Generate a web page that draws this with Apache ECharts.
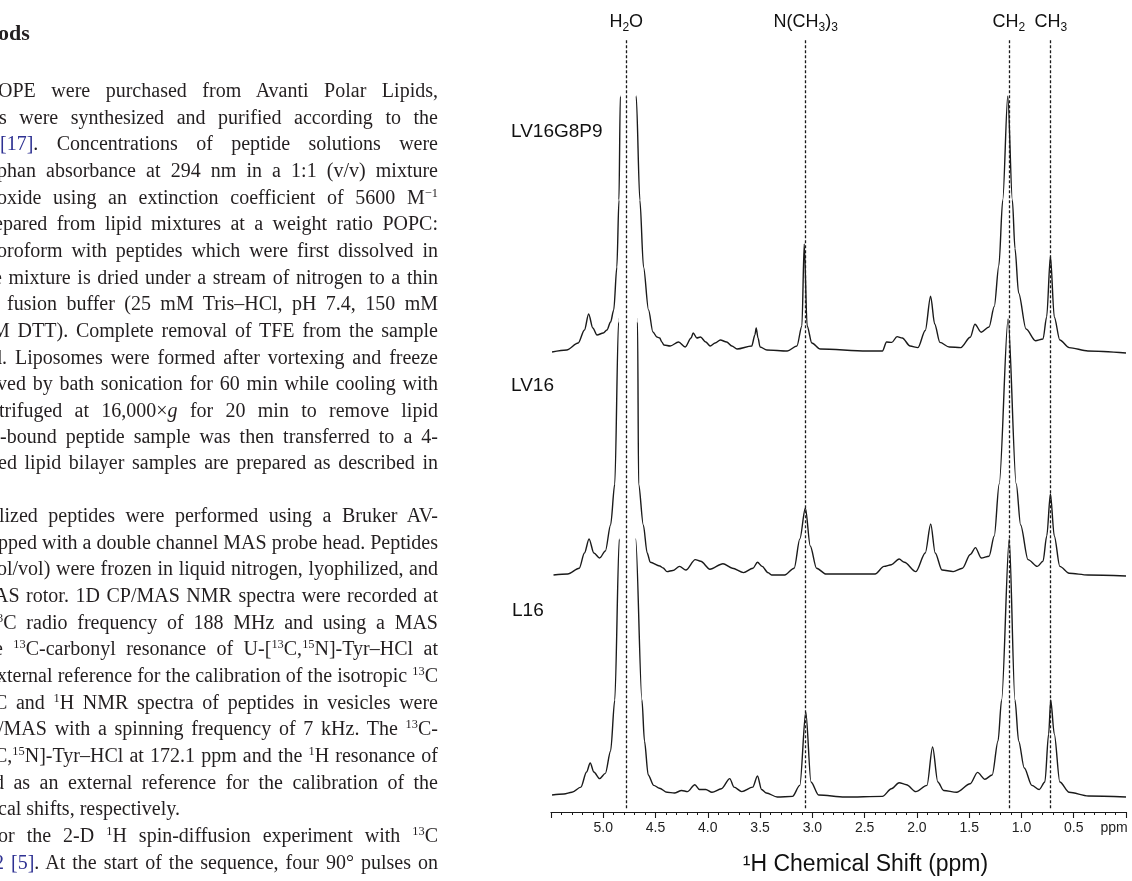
<!DOCTYPE html>
<html>
<head>
<meta charset="utf-8">
<script src="https://cdn.jsdelivr.net/npm/echarts@6/dist/echarts.min.js"></script>
<style>
  html, body { margin: 0; padding: 0; background: #fff; }
  #page { position: relative; width: 1132px; height: 881px; overflow: hidden; }
  #chart { position: absolute; left: 0; top: 0; width: 1132px; height: 881px; }
  #text { position: absolute; left: 0; top: 0; width: 438px; height: 881px; overflow: hidden;
          font-family: "Liberation Serif", "DejaVu Serif", serif; font-size: 20px; color: #231f20; }
  .ln { position: absolute; white-space: nowrap; line-height: 26px; }
  .ln sup { font-size: 0.62em; vertical-align: 0.55em; line-height: 0; }
  .lk { color: #2e3192; }
  .hd { font-weight: bold; font-size: 22px; }
</style>
</head>
<body>
<div id="page">
  <div id="chart"></div>
  <div id="text"></div>
</div>
<script>
// ---------- page text (left column fragment) ----------
// [center y, left x, justified?, html]
const textLines = [
  [33, -2, false, '<span class="hd">ods</span>'],
  [90, -2, true, 'OPE were purchased from Avanti Polar Lipids,'],
  [116.7, -1, true, 's were synthesized and purified according to the'],
  [143.3, 0, true, '<span class="lk">[17]</span>. Concentrations of peptide solutions were'],
  [170, -3, true, 'phan absorbance at 294 nm in a 1:1 (v/v) mixture'],
  [196.7, -3, true, 'oxide using an extinction coefficient of 5600 M<sup>&minus;1</sup>'],
  [223.3, -6, true, 'epared from lipid mixtures at a weight ratio POPC:'],
  [250, -3, true, 'oroform with peptides which were first dissolved in'],
  [276.7, -7, true, 'e mixture is dried under a stream of nitrogen to a thin'],
  [303.3, 7, true, 'fusion buffer (25 mM Tris&ndash;HCl, pH 7.4, 150 mM'],
  [330, -8, true, 'M DTT). Complete removal of TFE from the sample'],
  [356.7, -8, true, 'd. Liposomes were formed after vortexing and freeze'],
  [383.3, -3, true, 'ved by bath sonication for 60 min while cooling with'],
  [409.5, -1, true, 'trifuged at 16,000&times;<i>g</i> for 20 min to remove lipid'],
  [435.5, 0, true, '-bound peptide sample was then transferred to a 4-'],
  [462, -2, true, 'ed lipid bilayer samples are prepared as described in'],
  [515, -1, true, 'lized peptides were performed using a Bruker AV-'],
  [541.7, -2, true, 'pped with a double channel MAS probe head. Peptides'],
  [568.3, -3, true, 'ol/vol) were frozen in liquid nitrogen, lyophilized, and'],
  [595, -6, true, 'AS rotor. 1D CP/MAS NMR spectra were recorded at'],
  [621.7, -3, true, '<sup>3</sup>C radio frequency of 188 MHz and using a MAS'],
  [648.3, -6, true, 'e <sup>13</sup>C-carbonyl resonance of U-[<sup>13</sup>C,<sup>15</sup>N]-Tyr&ndash;HCl at'],
  [675, -3, true, 'xternal reference for the calibration of the isotropic <sup>13</sup>C'],
  [701.7, -6, true, 'C and <sup>1</sup>H NMR spectra of peptides in vesicles were'],
  [728.3, -2, true, '/MAS with a spinning frequency of 7 kHz. The <sup>13</sup>C-'],
  [755, -6, true, 'C,<sup>15</sup>N]-Tyr&ndash;HCl at 172.1 ppm and the <sup>1</sup>H resonance of'],
  [781.7, -6, true, 'd as an external reference for the calibration of the'],
  [808.3, -2, false, 'cal shifts, respectively.'],
  [835, -2, true, 'or the 2-D <sup>1</sup>H spin-diffusion experiment with <sup>13</sup>C'],
  [861.7, -6, true, '<span class="lk">2 [5]</span>. At the start of the sequence, four 90&deg; pulses on']
];
const TEXT_RIGHT = 438;

// ---------- chart data ----------
const xTickLabels = ['5.0', '4.5', '4.0', '3.5', '3.0', '2.5', '2.0', '1.5', '1.0', '0.5'];
const unitLabel = 'ppm';
const axisTitle = '\u00B9H Chemical Shift (ppm)';
const sampleNames = ['LV16G8P9', 'LV16', 'L16'];

// reference lines (ppm) and their labels
const refShifts = [4.78, 3.064, 1.121, 0.72];
const refLabels = ['H{s|2}O', 'N(CH{s|3}){s|3}', 'CH{s|2}', 'CH{s|3}'];

// spectra: [ppm, intensity] (water signal runs off-scale)
const specLV16G8P9 = [
  [5.49,0],[5.35,2],[5.24,9],[5.18,22],[5.14,38],[5.10,24],[5.06,17],[5.00,19],[4.965,22],[4.93,30],
  [4.90,42],[4.87,85],[4.85,152],[4.837,256],[4.77,5000],[4.685,256],[4.65,152],[4.615,85],[4.567,42],
  [4.525,20],[4.487,15],[4.46,14],[4.44,10],[4.42,7],[4.36,6],[4.28,10],[4.216,5],[4.16,14],[4.14,19],
  [4.105,14],[4.07,15],[4.02,10],[3.977,6],[3.93,9],[3.88,12],[3.82,10],[3.77,6],[3.72,3],[3.58,6],
  [3.55,17],[3.537,24],[3.52,14],[3.50,5],[3.435,2],[3.24,1],[3.148,6],[3.10,26],[3.078,108],[3.05,26],
  [3.005,9],[2.925,3],[2.48,1],[2.33,1],[2.29,10],[2.24,9.6],[2.19,15.4],[2.14,14],[2.065,6],[1.99,4.4],
  [1.92,21.5],[1.869,55.7],[1.83,28],[1.78,9.6],[1.69,5],[1.58,4.4],[1.49,14.7],[1.445,27.7],[1.385,19.8],
  [1.31,25],[1.26,45.5],[1.216,86.5],[1.179,152],[1.131,256],[1.087,152],[1.062,103.6],[1.027,59],
  [0.956,23],[0.866,11.3],[0.794,13],[0.759,35],[0.723,96],[0.686,35],[0.633,12],[0.544,4.4],[0.364,1],[0.0,-1]
];
const specLV16 = [
  [5.476,0],[5.34,1],[5.23,6.8],[5.18,22],[5.136,36],[5.09,22],[5.035,17],[4.98,24],[4.93,50],[4.89,91],
  [4.854,253],[4.77,5000],[4.672,253],[4.662,91],[4.617,50],[4.58,22],[4.55,12.7],[4.46,9],[4.427,7],
  [4.39,3.4],[4.335,4.5],[4.27,8.6],[4.21,5],[4.12,15.4],[4.068,13.7],[3.98,5.8],[3.855,11.3],[3.765,6.8],
  [3.658,2.4],[3.568,6.8],[3.525,12.7],[3.48,8.6],[3.425,2.4],[3.39,0],[3.265,0],[3.174,6.8],[3.12,36],
  [3.067,67],[3.02,29],[2.96,6.8],[2.87,1],[2.40,1],[2.315,8.6],[2.244,10.3],[2.17,16],[2.12,12.7],
  [2.01,3.4],[1.92,22],[1.868,51],[1.825,22],[1.76,5],[1.653,3.4],[1.564,6.8],[1.49,20.5],[1.44,27.4],
  [1.385,17],[1.31,18.8],[1.26,39],[1.213,91],[1.128,256],[1.05,91],[1.008,50],[0.937,15.4],[0.848,8.6],
  [0.794,13.7],[0.758,39],[0.723,81],[0.686,39],[0.633,8.6],[0.544,1.7],[0.364,0],[0.0,-1]
];
const specL16 = [
  [5.49,0],[5.376,1],[5.30,2.7],[5.214,7.9],[5.16,23],[5.125,32],[5.09,23],[5.035,16.4],[4.98,21.6],
  [4.93,44],[4.89,95],[4.847,256],[4.77,5000],[4.69,256],[4.63,95],[4.606,54],[4.57,20],[4.517,9.6],
  [4.463,6.8],[4.39,2.7],[4.32,2],[4.25,4.5],[4.195,3.4],[4.124,10.3],[4.08,5.5],[4.02,5.5],[3.96,2.7],
  [3.87,6.2],[3.79,16.4],[3.75,7.9],[3.675,3.4],[3.57,7.9],[3.525,19],[3.486,5.5],[3.44,2],[3.336,-2],
  [3.19,-1.4],[3.12,9.6],[3.063,83],[3.013,13],[2.94,0],[2.69,-2],[2.33,-1.4],[2.244,6.2],[2.17,12.3],
  [2.10,10.3],[2.01,3.4],[1.904,9.6],[1.85,48],[1.80,13],[1.744,4.5],[1.62,2.7],[1.49,11.3],[1.42,22.6],
  [1.35,15.8],[1.28,20],[1.224,54],[1.19,95],[1.117,256],[1.062,95],[1.027,54],[0.973,27],[0.90,9.6],
  [0.83,5.5],[0.776,13],[0.74,61],[0.72,95],[0.686,61],[0.633,13],[0.544,2.7],[0.36,-1],[0.0,-2]
];
const spectra = [specLV16G8P9, specLV16, specL16];

// ---------- build text ----------
const textBox = document.getElementById('text');
textLines.forEach(([cy, left, just, html]) => {
  const d = document.createElement('div');
  d.className = 'ln';
  d.style.left = left + 'px';
  d.style.top = (cy - 13) + 'px';
  d.innerHTML = html;
  textBox.appendChild(d);
  if (just) {
    const target = TEXT_RIGHT - left;
    const w = d.getBoundingClientRect().width;
    const spaces = (d.textContent.match(/ /g) || []).length;
    if (spaces > 0) d.style.wordSpacing = ((target - w) / spaces) + 'px';
  }
});

// ---------- chart ----------
const FONT = '"Liberation Sans", Arial, sans-serif';
const INK = '#1a1a1a';
const LEFT = 551, RIGHT = 6;
// [top, bottom] of each spectrum panel
const panels = [[96, 519], [319, 296], [539, 76]];

const grids = panels.map(p => ({ left: LEFT, right: RIGHT, top: p[0], bottom: p[1] }));
grids.push({ left: LEFT, right: RIGHT, top: 40, bottom: 68 });

const xAxes = panels.map((p, i) => ({
  type: 'value', gridIndex: i, min: 0, max: 5.5, inverse: true, show: false
}));
xAxes.push({
  type: 'value', gridIndex: 3, min: 0, max: 5.5, interval: 0.5, inverse: true,
  axisLine: { show: true, lineStyle: { color: INK, width: 1.2 } },
  axisTick: { show: true, inside: false, length: 6, lineStyle: { color: INK, width: 1.1 } },
  minorTick: { show: true, splitNumber: 5, length: 3, lineStyle: { color: INK, width: 1 } },
  splitLine: { show: false }, minorSplitLine: { show: false },
  axisLabel: {
    show: true, margin: 9, fontSize: 14, color: '#222', fontFamily: FONT,
    showMinLabel: true, showMaxLabel: true,
    formatter: v => {
      if (Math.abs(v) < 1e-6) return '{r|' + unitLabel + '}';
      const s = v.toFixed(1);
      return xTickLabels.indexOf(s) >= 0 ? s : '';
    },
    rich: { r: { fontSize: 14, color: '#222', fontFamily: FONT, padding: [0, 24, 0, 0] } }
  },
  name: axisTitle, nameLocation: 'middle', nameGap: 41,
  nameTextStyle: { fontSize: 23, color: '#111', fontFamily: FONT, padding: [0, 0, 0, 54] }
});

const yAxes = panels.map((p, i) => ({ type: 'value', gridIndex: i, min: -10, max: 256, show: false }));
yAxes.push({ type: 'value', gridIndex: 3, min: 0, max: 1, show: false });

const series = spectra.map((d, i) => ({
  type: 'line', xAxisIndex: i, yAxisIndex: i, data: d, showSymbol: false, symbol: 'none',
  smooth: 0.3, smoothMonotone: 'x', clip: true, silent: true, animation: false,
  lineStyle: { color: INK, width: 1.4 }
}));
series.push({
  type: 'line', xAxisIndex: 3, yAxisIndex: 3, data: [[5.4, -1]], showSymbol: false, symbol: 'none',
  lineStyle: { width: 0, opacity: 0 }, silent: true, animation: false,
  markLine: {
    symbol: 'none', silent: true, animation: false,
    lineStyle: { type: [3, 2], color: INK, width: 1.3 },
    label: {
      show: true, position: 'end', distance: 6, formatter: p => p.name,
      fontSize: 18, color: '#111', fontFamily: FONT, lineHeight: 24,
      rich: { s: { fontSize: 12, lineHeight: 12, verticalAlign: 'bottom', fontFamily: FONT, color: '#111' } }
    },
    data: refShifts.map((x, i) => [
      { coord: [x, 0.005], name: refLabels[i] },
      { coord: [x, 1] }
    ])
  }
});

const titles = [
  { text: sampleNames[0], left: 511, top: 122 },
  { text: sampleNames[1], left: 511, top: 376 },
  { text: sampleNames[2], left: 512, top: 601 }
].map(t => Object.assign(t, { padding: 0,
  textStyle: { fontSize: 19, fontWeight: 'normal', color: '#111', fontFamily: FONT } }));

const chart = echarts.init(document.getElementById('chart'), null, { renderer: 'canvas' });
chart.setOption({
  animation: false,
  backgroundColor: 'transparent',
  title: titles,
  grid: grids,
  xAxis: xAxes,
  yAxis: yAxes,
  series: series
});
</script>
</body>
</html>
